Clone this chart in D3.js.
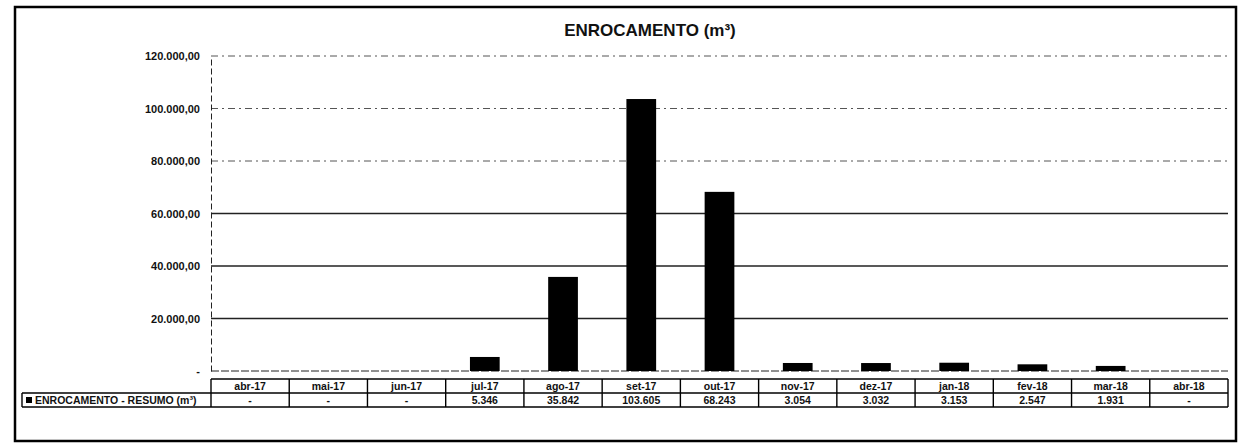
<!DOCTYPE html>
<html>
<head>
<meta charset="utf-8">
<script src="https://cdn.jsdelivr.net/npm/d3@7"></script>
<style>
  body { margin: 0; background: #fff; }
  svg { display: block; font-family: "Liberation Sans", Arial, sans-serif; }
</style>
</head>
<body>
<div id="chart"></div>
<script>
// data
const months = ['abr-17', 'mai-17', 'jun-17', 'jul-17', 'ago-17', 'set-17', 'out-17',
  'nov-17', 'dez-17', 'jan-18', 'fev-18', 'mar-18', 'abr-18'];
const volumes = [null, null, null, 5346, 35842, 103605, 68243, 3054, 3032, 3153, 2547, 1931, null];
const yTicks = [0, 20000, 40000, 60000, 80000, 100000, 120000];
const seriesName = 'ENROCAMENTO - RESUMO (m³)';
const title = 'ENROCAMENTO (m³)';

const width = 1239, height = 445;
const plot = { left: 211, right: 1228, top: 56, bottom: 371 };

const br = d3.formatLocale({ decimal: ',', thousands: '.', grouping: [3], currency: ['R$', ''] });
const fmtTick = br.format(',.2f');
const fmtVal = br.format(',.0f');

const svg = d3.select('#chart').append('svg')
  .attr('width', width)
  .attr('height', height);

// outer frame
svg.append('rect')
  .attr('x', 15).attr('y', 7)
  .attr('width', 1221).attr('height', 434)
  .attr('fill', 'none')
  .attr('stroke', '#000')
  .attr('stroke-width', 2.5);

svg.append('text')
  .attr('x', 650).attr('y', 36)
  .attr('text-anchor', 'middle')
  .attr('font-size', 17)
  .attr('font-weight', 'bold')
  .attr('fill', '#111')
  .text(title);

const x = d3.scaleBand()
  .domain(months)
  .range([plot.left, plot.right])
  .padding(0);

const y = d3.scaleLinear()
  .domain([0, 120000])
  .range([plot.bottom, plot.top]);

// gridlines
svg.append('g')
  .selectAll('line')
  .data(yTicks.filter(d => d > 0))
  .enter().append('line')
  .attr('x1', plot.left).attr('x2', plot.right)
  .attr('y1', d => y(d)).attr('y2', d => y(d))
  .attr('stroke', d => d >= 80000 ? '#555' : '#222')
  .attr('stroke-width', d => d >= 80000 ? 1 : 1.3)
  .attr('stroke-dasharray', d => d >= 80000 ? '7,4,2,4' : null);

// y axis
const yAxis = svg.append('g')
  .attr('transform', 'translate(' + plot.left + ',0)')
  .call(d3.axisLeft(y).tickValues(yTicks).tickSize(0).tickPadding(11)
    .tickFormat(d => d === 0 ? '-' : fmtTick(d)));
yAxis.select('.domain')
  .attr('stroke', '#222')
  .attr('stroke-dasharray', '6,3');
yAxis.selectAll('text')
  .attr('font-size', 11)
  .attr('font-weight', 'bold')
  .attr('fill', '#111');

// baseline
svg.append('line')
  .attr('x1', plot.left).attr('x2', plot.right)
  .attr('y1', y(0)).attr('y2', y(0))
  .attr('stroke', '#222')
  .attr('stroke-dasharray', '8,2');

// bars
const barW = x.bandwidth() * 0.38;
svg.append('g')
  .selectAll('rect')
  .data(months.map((m, i) => ({ m, v: volumes[i] })).filter(d => d.v !== null))
  .enter().append('rect')
  .attr('x', d => x(d.m) + (x.bandwidth() - barW) / 2)
  .attr('y', d => y(d.v))
  .attr('width', barW)
  .attr('height', d => y(0) - y(d.v))
  .attr('fill', '#000');

// data table
const rowTop = 379, rowMid = 393, rowBot = 407, labelLeft = 22;
const table = svg.append('g')
  .attr('stroke', '#000')
  .attr('stroke-width', 1.4);

table.append('line').attr('x1', plot.left).attr('x2', plot.right).attr('y1', rowTop).attr('y2', rowTop);
table.append('line').attr('x1', labelLeft).attr('x2', plot.right).attr('y1', rowMid).attr('y2', rowMid);
table.append('line').attr('x1', labelLeft).attr('x2', plot.right).attr('y1', rowBot).attr('y2', rowBot);
table.append('line').attr('x1', labelLeft).attr('x2', labelLeft).attr('y1', rowMid).attr('y2', rowBot);
table.selectAll('.sep')
  .data(months.concat(['end']))
  .enter().append('line')
  .attr('class', 'sep')
  .attr('x1', d => d === 'end' ? plot.right : x(d))
  .attr('x2', d => d === 'end' ? plot.right : x(d))
  .attr('y1', rowTop).attr('y2', rowBot);

svg.append('g')
  .selectAll('text')
  .data(months)
  .enter().append('text')
  .attr('x', d => x(d) + x.bandwidth() / 2)
  .attr('y', rowMid - 3)
  .attr('text-anchor', 'middle')
  .attr('font-size', 10.5)
  .attr('font-weight', 'bold')
  .attr('fill', '#111')
  .text(d => d);

svg.append('g')
  .selectAll('text')
  .data(months.map((m, i) => ({ m, v: volumes[i] })))
  .enter().append('text')
  .attr('x', d => x(d.m) + x.bandwidth() / 2)
  .attr('y', rowBot - 3)
  .attr('text-anchor', 'middle')
  .attr('font-size', 10.5)
  .attr('font-weight', 'bold')
  .attr('fill', '#111')
  .text(d => d.v === null ? '-' : fmtVal(d.v));

// legend key in table
svg.append('rect')
  .attr('x', labelLeft + 4).attr('y', rowMid + 4)
  .attr('width', 6).attr('height', 6)
  .attr('fill', '#000');
svg.append('text')
  .attr('x', labelLeft + 13)
  .attr('y', rowBot - 3)
  .attr('font-size', 10.5)
  .attr('font-weight', 'bold')
  .attr('fill', '#111')
  .text(seriesName);
</script>
</body>
</html>
